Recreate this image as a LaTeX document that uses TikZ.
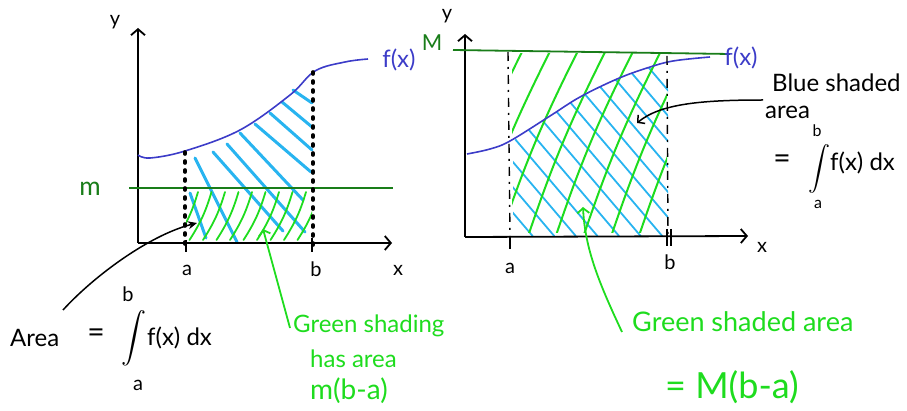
\documentclass[tikz,border=0pt]{standalone}
\usepackage{graphicx}
\usepackage{fontspec}
\setmainfont{Lato}
\usetikzlibrary{arrows.meta}
\definecolor{fblue}{RGB}{60,60,200}
\definecolor{hblue}{RGB}{40,180,240}
\definecolor{hgreen}{RGB}{30,220,30}
\definecolor{dgreen}{RGB}{25,125,25}
\begin{document}
\begin{tikzpicture}[x=1pt,y=-1pt,
 axis/.style={line width=1.8pt, black},
 axtip/.style={-{Straight Barb[length=6pt,width=14pt,line width=1.8pt]}},
 fcurve/.style={line width=1.6pt, fblue},
 bhatch/.style={line width=3pt, hblue, line cap=round},
 bhatchthin/.style={line width=1.8pt, hblue, line cap=round},
 ghatch/.style={line width=1.8pt, hgreen, line cap=round},
 dotline/.style={line width=3.6pt, dash pattern=on 2pt off 7pt, line cap=round},
 dashdot/.style={line width=1.4pt, dash pattern=on 9pt off 6pt on 2pt off 6pt},
 lbl/.style={font=\fontsize{20}{22}\selectfont, inner sep=0pt},
 eqsign/.style={font=\fontsize{30}{32}\selectfont, inner sep=0pt},
 txt/.style={font=\fontsize{24}{28}\selectfont, inner sep=0pt, anchor=base west},
 bigint/.style={inner sep=0pt},
]
\useasboundingbox (0,0) rectangle (907,411);

% ---------------- LEFT GRAPH ----------------
% blue hatching
\foreach \ax/\ay/\bx/\by in {190/193/206/238, 195/158/237/242, 213/152/283/231, 227/144/305/232,
  240/133/303/200, 255/124/311/172, 270/113/312/150, 282/102/312/127, 293/90/312/103}
  \draw[bhatch] (\ax,\ay) -- (\bx,\by);
% green hatching
\begin{scope}
\clip (186,190) rectangle (312,241);
\foreach \i in {0,...,9}{
  \pgfmathsetmacro\bb{176+13.5*\i}
  \draw[ghatch] (\bb,240) to[bend right=8] ({\bb+22},192);
}
\end{scope}
% axes
\coordinate (LO) at (138,243);
\coordinate (LY) at (138,28);
\coordinate (LX) at (392,243);
\draw[axis,axtip] (LO) -- (LY);
\draw[axis,axtip] (LO) -- (LX);
% m line
\coordinate (m1) at (129,188);
\coordinate (m2) at (393,188);
\draw[line width=1.8pt, dgreen] (m1) -- (m2);
% curve
\draw[fcurve] plot[smooth, tension=0.6] coordinates {(138,155) (150,158) (185,151) (240,130) (290,95) (315,71) (345,62) (368,59)};
% dotted verticals
\coordinate (la1) at (185,152); \coordinate (la2) at (185,246);
\coordinate (lb1) at (313,72);  \coordinate (lb2) at (313,246);
\draw[dotline] (la1) -- (la2);
\draw[dotline] (lb1) -- (lb2);
% ticks
\draw[line width=1.6pt] (186,240) -- (186,252);
\draw[line width=1.6pt] (312,238) -- (312,252);
% labels
\node[lbl] (ly) at (115,22) {y};
\node[lbl] (lx) at (398,270) {x};
\node[lbl] (la) at (187,270) {a};
\node[lbl] (lb) at (316,269) {b};
\node[font=\fontsize{26}{28}\selectfont, inner sep=0pt, dgreen] (lm) at (90,189) {m};
\node[font=\fontsize{24}{26}\selectfont, inner sep=0pt, fblue] (lf) at (399,60) {f(x)};
% Area text
\node[txt] (area) at (10,347) {Area};
\node[eqsign] (eq1) at (96,336) {=};
\node[bigint] (int1) at (134,338) {\scalebox{2.5}{$\displaystyle\int$}};
\node[lbl] (b1) at (128,294) {b};
\node[lbl] (a1) at (138,385) {a};
\node[txt] (fx1) at (147,345) {f(x) dx};
% arrows
\coordinate (ar1s) at (63,310);
\coordinate (ar1e) at (197,223);
\draw[line width=1.5pt, -{Stealth[length=9pt,width=8pt]}] (ar1s) .. controls (95,275) and (150,235) .. (ar1e);
% green text
\node[txt, hgreen] (gs1) at (293,333) {Green shading};
\node[txt, hgreen] (gs2) at (310,367) {has area};
\node[txt, hgreen, font=\fontsize{28}{30}\selectfont] (gs3) at (310,399) {m(b-a)};
\coordinate (gar1s) at (290,328);
\coordinate (gar1e) at (263,229);
\draw[line width=1.8pt, hgreen, -{Straight Barb[length=5pt,width=12pt]}] (gar1s) -- (gar1e);

% ---------------- RIGHT GRAPH ----------------
% blue hatching
\begin{scope}
\clip (513,236) -- plot[smooth] coordinates {(513,141) (550,116) (580,97) (617,79) (647,68) (668,61)} -- (668,236) -- cycle;
\foreach \i in {0,...,12}{
  \pgfmathsetmacro\cc{332+21.6*\i}
  \draw[bhatchthin] ({\cc+34},40) -- ({\cc+200.6},236);
}
\end{scope}
% green hatching
\begin{scope}
\clip (512,54) rectangle (667,233);
\foreach \i in {0,...,7}{
  \pgfmathsetmacro\gg{445+27.7*\i}
  \draw[ghatch, line width=2pt] (\gg,236) to[bend left=4] ({\gg+78},50);
}
\end{scope}
% axes
\coordinate (RO) at (465,237);
\coordinate (RY) at (465,34);
\coordinate (RX) at (748,236);
\draw[axis,axtip] (RO) -- (RY);
\draw[axis,axtip] (RO) -- (RX);
% M line
\coordinate (M1) at (453,50);
\coordinate (M2) at (730,54);
\draw[line width=1.8pt, dgreen] (M1) -- (M2);
% curve
\draw[fcurve] plot[smooth, tension=0.6] coordinates {(467,154) (490,149) (510,141) (550,116) (580,97) (617,79) (647,68) (673,61) (710,57)};
% dashed verticals
\coordinate (ra1) at (508,52); \coordinate (ra2) at (510,236);
\coordinate (rb1) at (667,56); \coordinate (rb2) at (668,236);
\draw[dashdot] (ra1) -- (ra2);
\draw[dashdot] (rb1) -- (rb2);
% ticks
\draw[line width=1.6pt] (510,236) -- (510,249);
\draw[line width=1.4pt] (667,229) -- (667,246);
\draw[line width=1.4pt] (671,229) -- (671,246);
% labels
\node[lbl] (ry) at (447,16) {y};
\node[lbl] (rx) at (762,247) {x};
\node[lbl] (ra) at (510,268) {a};
\node[lbl] (rb) at (670,262) {b};
\node[font=\fontsize{22}{24}\selectfont, inner sep=0pt, dgreen] (rM) at (432,43) {M};
\node[font=\fontsize{24}{26}\selectfont, inner sep=0pt, fblue] (rf) at (741,58) {f(x)};
% Blue shaded text
\node[txt] (bs1) at (772,92) {Blue shaded};
\node[txt] (bs2) at (765,119) {area};
\node[eqsign] (eq2) at (782,162) {=};
\node[bigint] (int2) at (819,169) {\scalebox{2.2}{$\displaystyle\int$}};
\node[font=\fontsize{16}{18}\selectfont, inner sep=0pt] (b2) at (817,131) {b};
\node[font=\fontsize{16}{18}\selectfont, inner sep=0pt] (a2) at (818,204) {a};
\node[txt] (fx2) at (830,171) {f(x) dx};
\coordinate (ar2s) at (763,100);
\coordinate (ar2e) at (637,123);
\draw[line width=1.5pt, -{Straight Barb[length=5pt,width=11pt]}] (ar2s) .. controls (700,100) and (660,104) .. (ar2e);
% green text
\node[txt, hgreen, font=\fontsize{27}{30}\selectfont] (gsa) at (632,332) {Green shaded area};
\node[txt, hgreen, font=\fontsize{36}{40}\selectfont] (gsb) at (665,398) {= M(b-a)};
\coordinate (gar2s) at (622,332);
\coordinate (gar2e) at (583,207);
\draw[line width=1.8pt, hgreen, -{Straight Barb[length=5pt,width=12pt]}] (gar2s) .. controls (600,285) and (585,250) .. (gar2e);
\end{tikzpicture}
\end{document}
